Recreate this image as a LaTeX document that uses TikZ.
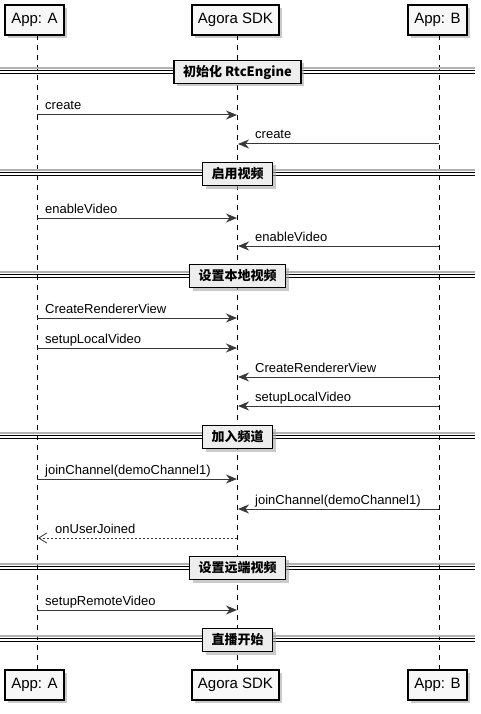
\documentclass[tikz,border=0pt]{standalone}
\usepackage{fontspec}
\setmainfont{Liberation Sans}
\newfontfamily\cjk{Noto Sans CJK SC}
\usetikzlibrary{arrows.meta,shadows}
\definecolor{arrowc}{HTML}{383838}
\definecolor{boxfill}{HTML}{F8F8F8}
\definecolor{divfill}{HTML}{EEEEEE}
\begin{document}
\begin{tikzpicture}[x=1pt,y=-1pt,
  font=\fontsize{13}{15}\selectfont,
  part/.style={draw=black,line width=1.3pt,fill=boxfill,minimum height=30pt,inner sep=0pt,
    font=\fontsize{15}{17}\selectfont,
    drop shadow={shadow xshift=3pt,shadow yshift=-3pt,fill=black!35,opacity=0.6}},
  divbox/.style={draw=black,line width=1.5pt,fill=divfill,minimum height=23pt,inner xsep=9pt,inner ysep=0pt,
    font=\cjk\bfseries\fontsize{13}{15}\selectfont,
    drop shadow={shadow xshift=3pt,shadow yshift=-3pt,fill=black!35,opacity=0.6}},
  life/.style={draw=black,line width=0.7pt,dash pattern=on 5pt off 5pt},
  msg/.style={draw=arrowc,line width=1pt,-{Stealth[length=11pt,width=9pt,inset=3.5pt]}},
  reply/.style={draw=arrowc,line width=0.8pt,dash pattern=on 2pt off 2pt,-{Straight Barb[length=8pt,width=10pt,line width=0.8pt]}},
  lbl/.style={anchor=base west,inner sep=0pt,text=black}
]
\useasboundingbox (0,0) rectangle (481,714);

% participants
\node[part,minimum width=59pt] (At) at (34.5,20) {App: A};
\node[part,minimum width=87pt] (St) at (235.5,20) {Agora SDK};
\node[part,minimum width=59pt] (Bt) at (437.5,20) {App: B};
\node[part,minimum width=59pt] (Ab) at (34.5,685) {App: A};
\node[part,minimum width=87pt] (Sb) at (235.5,685) {Agora SDK};
\node[part,minimum width=59pt] (Bb) at (437.5,685) {App: B};

% lifelines
\coordinate (a1) at (37,35); \coordinate (a2) at (37,670);
\coordinate (s1) at (237,35); \coordinate (s2) at (237,670);
\coordinate (b1) at (439,35); \coordinate (b2) at (439,670);
\draw[life] (a1) -- (a2);
\draw[life] (s1) -- (s2);
\draw[life] (b1) -- (b2);

% dividers
\foreach \yy/\txt/\nm in {72/{初始化 RtcEngine}/d1,174/{启用视频}/d2,276/{设置本地视频}/d3,437/{加入频道}/d4,568/{设置远端视频}/d5,640/{直播开始}/d6}{
  \coordinate (\nm l) at (0,\yy);
  \coordinate (\nm r) at (475,\yy);
  \draw[black!30,line width=1.5pt] ([yshift=4pt]\nm l) -- ([yshift=4pt]\nm r);
  \draw[black,line width=1pt] ([yshift=-1.8pt]\nm l) -- ([yshift=-1.8pt]\nm r);
  \draw[black,line width=1pt] ([yshift=1.8pt]\nm l) -- ([yshift=1.8pt]\nm r);
  \node[divbox] (\nm) at (237.5,\yy) {\txt};
}

% messages
\foreach \yy/\txt/\nm in {115/create/m1,218/enableVideo/m3,318/CreateRendererView/m5,348/setupLocalVideo/m6,479/joinChannel(demoChannel1)/m9,610/setupRemoteVideo/m12}{
  \coordinate (\nm a) at (37,\yy);
  \coordinate (\nm s) at (237,\yy);
  \draw[msg] (\nm a) -- (\nm s);
  \node[lbl] at (45,\yy-5) {\txt};
}
\foreach \yy/\txt/\nm in {144/create/m2,246/enableVideo/m4,377/CreateRendererView/m7,406/setupLocalVideo/m8,509/joinChannel(demoChannel1)/m10}{
  \coordinate (\nm b) at (439,\yy);
  \coordinate (\nm s) at (238,\yy);
  \draw[msg] (\nm b) -- (\nm s);
  \node[lbl] at (255,\yy-5) {\txt};
}
\coordinate (m11s) at (237,538);
\coordinate (m11a) at (38,538);
\draw[reply] (m11s) -- (m11a);
\node[lbl] at (55,533) {onUserJoined};
\end{tikzpicture}
\end{document}
